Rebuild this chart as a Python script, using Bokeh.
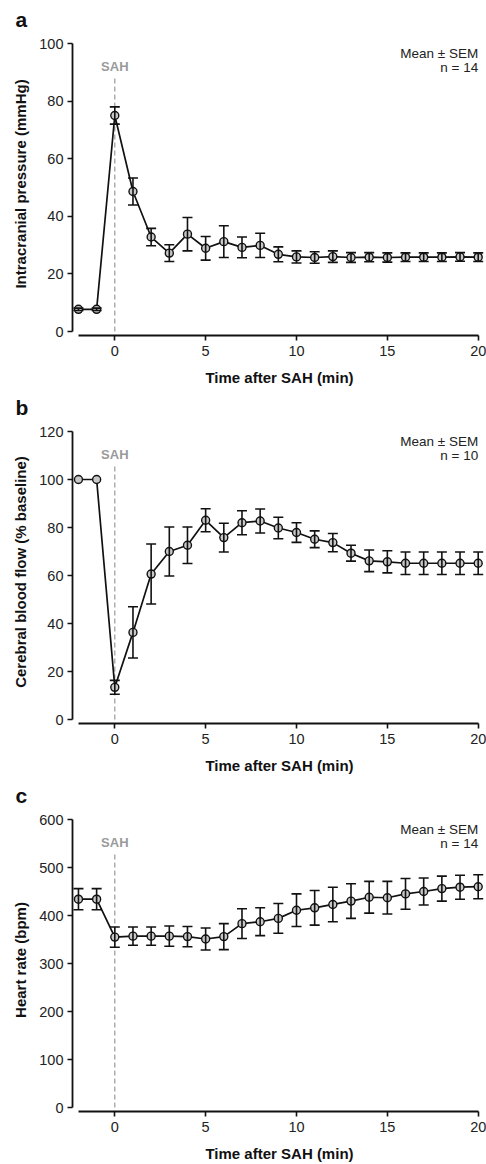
from bokeh.plotting import figure
from bokeh.models import (ColumnDataSource, Whisker, TeeHead, Label, FixedTicker, Range1d)
from bokeh.layouts import column
from bokeh.embed import file_html
from bokeh.resources import INLINE

# ---- data ----
time_min = [-2, -1, 0, 1, 2, 3, 4, 5, 6, 7, 8, 9, 10, 11, 12, 13, 14, 15, 16, 17, 18, 19, 20]

icp_mean = [7.7, 7.7, 75.0, 48.6, 32.8, 27.2, 33.8, 28.9, 31.2, 29.2, 29.9, 26.8, 25.9,
            25.7, 26.0, 25.7, 25.8, 25.7, 25.8, 25.8, 25.8, 25.9, 25.8]
icp_sem = [0.4, 0.4, 3.0, 4.7, 3.0, 2.9, 5.8, 4.1, 5.5, 3.6, 4.2, 2.6, 2.1,
           2.0, 2.0, 1.7, 1.6, 1.6, 1.5, 1.5, 1.5, 1.5, 1.5]

cbf_mean = [100, 100, 13.4, 36.3, 60.6, 70.0, 72.6, 83.0, 75.8, 82.0, 82.7, 79.8, 77.9,
            75.1, 73.7, 69.3, 66.1, 65.7, 65.1, 65.1, 65.1, 65.1, 65.1]
cbf_sem = [0, 0, 2.9, 10.7, 12.5, 10.2, 7.6, 4.8, 6.0, 5.0, 5.0, 4.5, 4.1,
           3.5, 3.8, 3.3, 4.5, 4.6, 4.7, 4.7, 4.7, 4.7, 4.7]

hr_mean = [434, 434, 355, 357, 357, 357, 356, 351, 356, 383, 387, 394, 411,
           416, 423, 430, 438, 437, 445, 450, 456, 459, 460]
hr_sem = [22, 22, 21, 19, 19, 21, 21, 23, 27, 31, 29, 31, 34,
          36, 36, 36, 33, 34, 32, 28, 26, 25, 25]

panel_letters = ["a", "b", "c"]
y_titles = ["Intracranial pressure (mmHg)", "Cerebral blood flow (% baseline)", "Heart rate (bpm)"]
y_max = [100, 120, 600]
y_step = [20, 20, 100]
n_labels = ["n = 14", "n = 10", "n = 14"]
x_ticks = [0, 5, 10, 15, 20]
x_title = "Time after SAH (min)"
sah_time = 0

FONT = "Liberation Sans"
FIG_W, FIG_H = 486, 388
B_LEFT, B_TOP, B_BOTTOM = 72, 32, 53
ZERO_PX = 331          # pixel (within figure) of y = 0
YSPAN_PX = 288         # pixels from y = 0 to y = max
X0_PX, PX_PER_MIN = 114.3, 18.17


def make_panel(letter, means, sems, ymax, ystep, ytitle, nlab):
    frame_h = FIG_H - B_TOP - B_BOTTOM
    ppu = YSPAN_PX / ymax
    y_start = -(B_TOP + frame_h - ZERO_PX) / ppu
    y_end = ymax + (ZERO_PX - YSPAN_PX - B_TOP) / ppu
    x_start = -(X0_PX - B_LEFT) / PX_PER_MIN
    x_end = x_start + (FIG_W - B_LEFT) / PX_PER_MIN

    p = figure(width=FIG_W, height=FIG_H, output_backend="svg", toolbar_location=None,
               x_range=Range1d(x_start, x_end), y_range=Range1d(y_start, y_end),
               min_border_left=B_LEFT, min_border_right=0, min_border_top=B_TOP,
               min_border_bottom=B_BOTTOM, title=letter)
    p.title.align = "left"
    p.title.offset = 15 - B_LEFT
    p.title.standoff = 4
    p.title.text_font = FONT
    p.title.text_font_size = "21px"
    p.title.text_font_style = "bold"
    p.title.text_color = "#111111"

    p.outline_line_color = None
    p.grid.visible = False
    p.background_fill_color = "white"
    p.border_fill_color = "white"

    for ax in (p.xaxis[0], p.yaxis[0]):
        ax.axis_line_width = 1.8
        ax.axis_line_color = "#111111"
        ax.major_tick_line_width = 1.6
        ax.major_tick_line_color = "#111111"
        ax.major_tick_out = 5
        ax.major_tick_in = 0
        ax.minor_tick_out = 0
        ax.minor_tick_in = 0
        ax.major_label_text_font = FONT
        ax.major_label_text_font_size = "14.5px"
        ax.major_label_text_color = "#222222"
        ax.axis_label_text_font = FONT
        ax.axis_label_text_font_size = "15px"
        ax.axis_label_text_font_style = "bold"
        ax.axis_label_text_color = "#111111"

    p.xaxis[0].bounds = (time_min[0], time_min[-1])
    p.xaxis[0].ticker = FixedTicker(ticks=x_ticks)
    p.xaxis[0].major_label_standoff = 5
    p.xaxis[0].axis_label = x_title
    p.xaxis[0].axis_label_standoff = 10

    p.yaxis[0].bounds = (0, ymax)
    p.yaxis[0].ticker = FixedTicker(ticks=list(range(0, ymax + 1, ystep)))
    p.yaxis[0].major_label_standoff = 4
    p.yaxis[0].axis_label = ytitle
    p.yaxis[0].axis_label_standoff = 7

    # SAH marker line
    p.segment(x0=[sah_time], y0=[0], x1=[sah_time], y1=[0.889 * ymax],
              line_color="#9a9a9a", line_width=1.2, line_dash="5 3")
    p.add_layout(Label(x=sah_time, y=0.921 * ymax, text="SAH", text_align="center",
                       text_baseline="middle", text_font=FONT, text_font_size="13px",
                       text_font_style="bold", text_color="#9a9a9a"))

    # error bars
    wx = [t for t, s in zip(time_min, sems) if s > 0]
    wu = [m + s for m, s in zip(means, sems) if s > 0]
    wl = [m - s for m, s in zip(means, sems) if s > 0]
    wsrc = ColumnDataSource(dict(x=wx, upper=wu, lower=wl))
    w = Whisker(base="x", upper="upper", lower="lower", source=wsrc,
                line_color="#111111", line_width=1.6,
                upper_head=TeeHead(size=10, line_width=1.6, line_color="#111111"),
                lower_head=TeeHead(size=10, line_width=1.6, line_color="#111111"))
    w.level = "glyph"
    p.add_layout(w)

    src = ColumnDataSource(dict(x=time_min, y=means))
    p.line("x", "y", source=src, line_color="#111111", line_width=1.7)
    p.scatter("x", "y", source=src, size=8, fill_color="#c8c8c8",
              line_color="#111111", line_width=1.4)

    # annotations
    p.add_layout(Label(x=time_min[-1], y=0.967 * ymax, text="Mean \u00b1 SEM",
                       text_align="right", text_baseline="middle", text_font=FONT,
                       text_font_size="13.5px", text_color="#222222"))
    p.add_layout(Label(x=time_min[-1], y=0.918 * ymax, text=nlab,
                       text_align="right", text_baseline="middle", text_font=FONT,
                       text_font_size="13.5px", text_color="#222222"))
    return p


panels = [
    make_panel(panel_letters[0], icp_mean, icp_sem, y_max[0], y_step[0], y_titles[0], n_labels[0]),
    make_panel(panel_letters[1], cbf_mean, cbf_sem, y_max[1], y_step[1], y_titles[1], n_labels[1]),
    make_panel(panel_letters[2], hr_mean, hr_sem, y_max[2], y_step[2], y_titles[2], n_labels[2]),
]

layout = column(*panels, spacing=0)
open("out.html", "w").write(file_html(layout, INLINE))
